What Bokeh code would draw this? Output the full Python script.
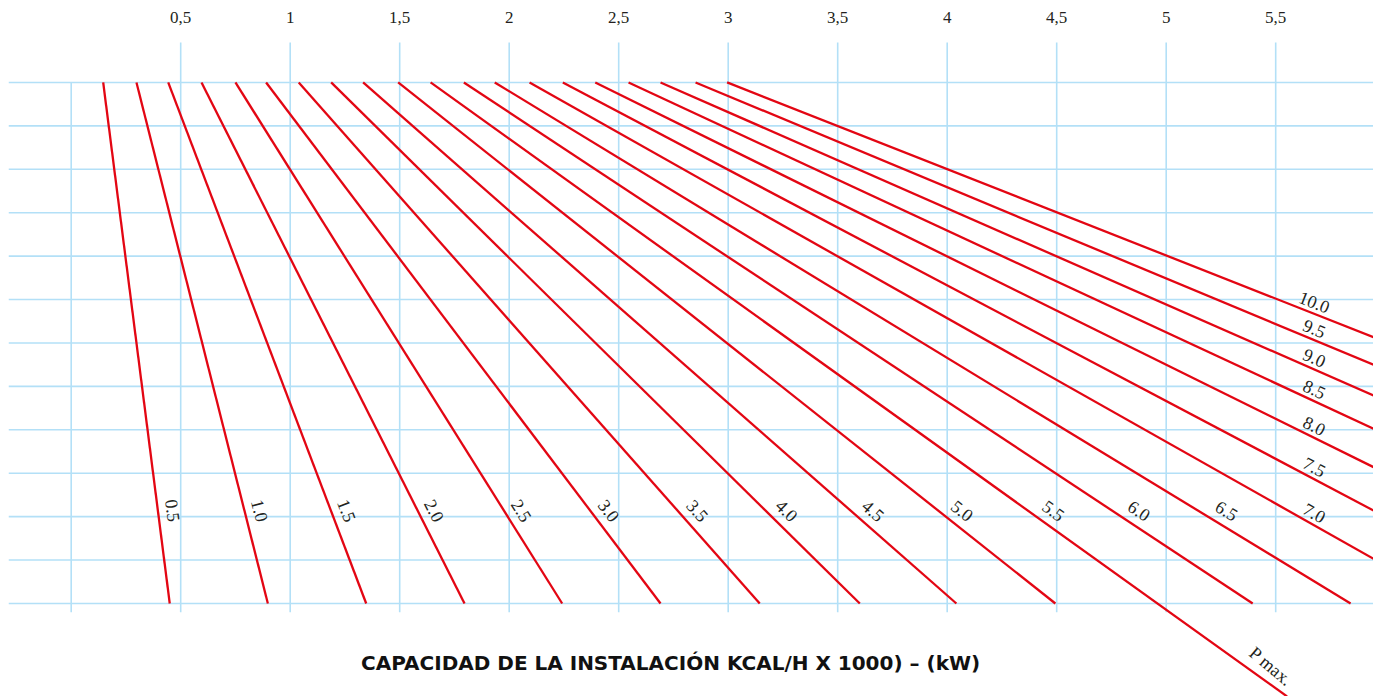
import math
from bokeh.plotting import figure
from bokeh.models import LinearAxis, FixedTicker, Range1d, Label, ColumnDataSource
from bokeh.core.properties import value
from bokeh.embed import file_html
from bokeh.resources import INLINE

# ---------------- data ----------------
# top-axis ticks (capacity) and their labels
tick_values = [0.5, 1.0, 1.5, 2.0, 2.5, 3.0, 3.5, 4.0, 4.5, 5.0, 5.5]
tick_labels = ["0,5", "1", "1,5", "2", "2,5", "3", "3,5", "4", "4,5", "5", "5,5"]

# curve labels
curve_labels = ["0.5", "1.0", "1.5", "2.0", "2.5", "3.0", "3.5", "4.0", "4.5", "5.0",
                "5.5", "6.0", "6.5", "7.0", "7.5", "8.0", "8.5", "9.0", "9.5", "10.0"]
# x where each curve meets the top grid line (y = 12)
x_top = [0.146, 0.298, 0.443, 0.595, 0.750, 0.890, 1.039, 1.187, 1.333, 1.493,
         1.641, 1.793, 1.934, 2.093, 2.245, 2.393, 2.545, 2.691, 2.851, 2.995]
# x where each curve meets the bottom grid line (y = 0)
x_base = [0.450, 0.898, 1.347, 1.796, 2.242, 2.691, 3.144, 3.601, 4.042, 4.494,
          4.960, 5.395, 5.842, 6.308, 6.751, 7.206, 7.663, 8.110, 8.564, 9.033]
y_top_val = 12
y_base_val = 0
# P max. line: continuation of the 5.5 curve
pmax_curve = "5.5"
pmax_y_end = -2.14
pmax_text = "P max."

grid_rows = list(range(0, 13))
grid_cols = [0.0] + tick_values

title_text = "CAPACIDAD DE LA INSTALACIÓN KCAL/H X 1000) – (kW)"

# ---------------- layout ----------------
LEFT, TOP = 8, 36
FW, FH = 1365, 660
W, H = LEFT + FW, TOP + FH
X0, X1 = -0.2863, 5.9466
Y0, Y1 = -2.142, 13.058
kx = FW / (X1 - X0)
ky = FH / (Y1 - Y0)

RED = "#e30613"
BLUE = "#b3e0f7"
SERIF = "Liberation Serif"

p = figure(width=W, height=H, output_backend="svg", toolbar_location=None,
           x_range=Range1d(X0, X1), y_range=Range1d(Y0, Y1),
           x_axis_type=None, y_axis_type=None,
           min_border=0, min_border_top=TOP, min_border_left=LEFT)
p.outline_line_color = None
p.xgrid.visible = False
p.ygrid.visible = False
p.background_fill_color = "white"
p.border_fill_color = "white"

# top axis
ax = LinearAxis(ticker=FixedTicker(ticks=tick_values),
                major_label_overrides={float(v): s for v, s in zip(tick_values, tick_labels)},
                axis_line_color=None, major_tick_line_color=None,
                minor_tick_line_color=None,
                major_label_text_font=SERIF, major_label_text_font_size="17px",
                major_label_text_color="#231f20", major_label_standoff=8)
p.add_layout(ax, "above")

# grid (drawn as segments so extents match the chart)
p.segment(x0=[X0] * len(grid_rows), y0=grid_rows, x1=[X1] * len(grid_rows), y1=grid_rows,
          line_color=BLUE, line_width=1.6)
col_top = [y_top_val if c == 0 else y_top_val + 0.92 for c in grid_cols]
p.segment(x0=grid_cols, y0=[-0.2] * len(grid_cols), x1=grid_cols, y1=col_top,
          line_color=BLUE, line_width=1.6)

# curves
xs0, ys0, xs1, ys1 = [], [], [], []
for lab, xt, xb in zip(curve_labels, x_top, x_base):
    xs0.append(xt); ys0.append(y_top_val)
    if lab == pmax_curve:
        slope = (xb - xt) / (y_top_val - y_base_val)
        xs1.append(xb + slope * (y_base_val - pmax_y_end)); ys1.append(pmax_y_end)
    else:
        xs1.append(xb); ys1.append(y_base_val)
p.segment(x0=xs0, y0=ys0, x1=xs1, y1=ys1, line_color=RED, line_width=2.3)

# curve labels
LBL_Y = 2.14      # data y for labels of curves reaching the bottom
LBL_X = 5.677     # data x for labels of curves leaving at the right
D_BOT = 15
D_RIGHT = 11
lx, ly, la, lt = [], [], [], []
for lab, xt, xb in zip(curve_labels, x_top, x_base):
    sdx = (xb - xt) * kx
    sdy = (y_top_val - y_base_val) * ky
    L = math.hypot(sdx, sdy)
    ang = -math.atan2(sdy, sdx)
    if xb <= X1:
        t = (y_top_val - LBL_Y) / (y_top_val - y_base_val)
        x = xt + t * (xb - xt) + D_BOT * L / sdy / kx
        y = LBL_Y
    else:
        t = (LBL_X - xt) / (xb - xt)
        x = LBL_X
        y = y_top_val - t * (y_top_val - y_base_val) + D_RIGHT * L / sdx / ky
    lx.append(x); ly.append(y); la.append(ang); lt.append(lab)

# P max label
i = curve_labels.index(pmax_curve)
xt, xb = x_top[i], x_base[i]
sdx = (xb - xt) * kx
sdy = (y_top_val - y_base_val) * ky
L = math.hypot(sdx, sdy)
yy = -1.45
t = (y_top_val - yy) / (y_top_val - y_base_val)
lx.append(xt + t * (xb - xt) + 15 * L / sdy / kx)
ly.append(yy)
la.append(-math.atan2(sdy, sdx) - 0.08)
lt.append(pmax_text)

src = ColumnDataSource(dict(x=lx, y=ly, angle=la, text=lt))
p.text(x="x", y="y", text="text", angle="angle", source=src,
       text_align="center", text_baseline="middle",
       text_font=value(SERIF), text_font_size="18px", text_color="#231f20")

# title
p.add_layout(Label(x=2.737, y=-1.36, text=title_text,
                   text_align="center", text_baseline="middle",
                   text_font="DejaVu Sans", text_font_style="bold",
                   text_font_size="20px", text_color="#111111"))

open("out.html", "w").write(file_html(p, INLINE))
